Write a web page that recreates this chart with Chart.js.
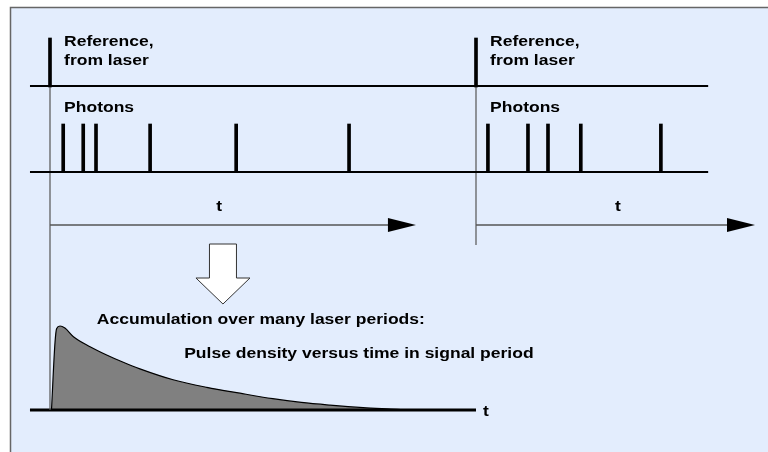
<!DOCTYPE html>
<html>
<head>
<meta charset="utf-8">
<script src="https://cdn.jsdelivr.net/npm/chart.js@4.4.1/dist/chart.umd.min.js"></script>
<style>
  html, body { margin: 0; padding: 0; background: #fff; }
  #wrap { width: 768px; height: 452px; position: relative; }
</style>
</head>
<body>
<div id="wrap"><canvas id="diagram"></canvas></div>
<script>
// Time is measured in units of the laser period (one period = 100)
const laserPulses = [0, 100];
const photonTimes = [3.1, 7.8, 10.8, 23.5, 43.7, 70.2, 102.8, 112.2, 116.9, 124.6, 143.4];

// Accumulated histogram: pulse density (normalised) vs. time in signal period
const decayTimes   = [0.35, 1.17, 1.57, 2.35, 3.5, 5.5, 9.4, 13.3, 17.2, 21.1, 28.9, 36.8, 44.6, 52.3, 59.0, 65.7, 73.5, 81.5, 84.0];
const decayDensity = [0, 0.80, 0.97, 1.0, 0.975, 0.873, 0.754, 0.655, 0.568, 0.49, 0.36, 0.27, 0.20, 0.135, 0.09, 0.058, 0.028, 0.008, 0];

const labelsRef = ['Reference,', 'from laser'];
const labelPhotons = 'Photons';
const labelTime = 't';
const labelAccum = 'Accumulation over many laser periods:';
const labelDensity = 'Pulse density versus time in signal period';

// Layout (rows on the pixel-like y scale, time span of lines)
const REF_TOP = 38, REF_BASE = 86, PH_TOP = 124, PH_BASE = 172, AXIS_Y = 225;
const LINE_START = -4.7, LINE_END = 154.5;
const PX_PER_T = 4.26, ORIGIN_PX = 50;

const ink = '#000';
const grey = '#555';
const FONT = 'bold 15.5px "Liberation Sans", Arial, sans-serif';

const drawText = (ctx, str, x, y, align) => {
    ctx.save();
    ctx.font = FONT;
    ctx.fillStyle = ink;
    ctx.textBaseline = 'alphabetic';
    ctx.translate(x, y);
    ctx.scale(1.13, 1);
    ctx.textAlign = align || 'left';
    ctx.fillText(str, 0, 0);
    ctx.restore();
};

const arrowHead = (ctx, tipX, y) => {
    ctx.beginPath();
    ctx.moveTo(tipX, y);
    ctx.lineTo(tipX - 28, y - 7);
    ctx.lineTo(tipX - 28, y + 7);
    ctx.closePath();
    ctx.fillStyle = ink;
    ctx.fill();
};

const diagramPlugin = {
    id: 'diagram',
    beforeDraw(chart) {
        const ctx = chart.ctx;
        ctx.save();
        ctx.fillStyle = '#fff';
        ctx.fillRect(0, 0, chart.width, chart.height);
        ctx.fillStyle = '#e3edfd';
        ctx.fillRect(10, 7, chart.width - 10, chart.height - 7);
        ctx.strokeStyle = '#666';
        ctx.lineWidth = 1.5;
        ctx.beginPath();
        ctx.moveTo(10.5, chart.height);
        ctx.lineTo(10.5, 7.5);
        ctx.lineTo(chart.width, 7.5);
        ctx.stroke();
        ctx.restore();
    },
    afterDatasetsDraw(chart) {
        const ctx = chart.ctx;
        const x = chart.scales.x, y = chart.scales.y, y2 = chart.scales.y2;
        ctx.save();

        // time axis arrowheads
        arrowHead(ctx, x.getPixelForValue(85.9), y.getPixelForValue(AXIS_Y));
        arrowHead(ctx, x.getPixelForValue(165.5), y.getPixelForValue(AXIS_Y));

        // hollow "accumulate" arrow
        const cx = x.getPixelForValue(40.6);
        const top = y.getPixelForValue(244), sh = y.getPixelForValue(278), tip = y.getPixelForValue(304);
        ctx.beginPath();
        ctx.moveTo(cx - 13.5, top);
        ctx.lineTo(cx + 13.5, top);
        ctx.lineTo(cx + 13.5, sh);
        ctx.lineTo(cx + 27, sh);
        ctx.lineTo(cx, tip);
        ctx.lineTo(cx - 27, sh);
        ctx.lineTo(cx - 13.5, sh);
        ctx.closePath();
        ctx.fillStyle = '#fff';
        ctx.fill();
        ctx.strokeStyle = '#333';
        ctx.lineWidth = 1;
        ctx.stroke();

        // labels
        laserPulses.forEach(t => {
            const lx = x.getPixelForValue(t + 3.3);
            drawText(ctx, labelsRef[0], lx, y.getPixelForValue(46));
            drawText(ctx, labelsRef[1], lx, y.getPixelForValue(65));
            drawText(ctx, labelPhotons, lx, y.getPixelForValue(111.5));
        });
        drawText(ctx, labelTime, x.getPixelForValue(39.7), y.getPixelForValue(211), 'center');
        drawText(ctx, labelTime, x.getPixelForValue(133.3), y.getPixelForValue(211), 'center');
        drawText(ctx, labelAccum, x.getPixelForValue(11.0), y.getPixelForValue(324));
        drawText(ctx, labelDensity, x.getPixelForValue(31.5), y.getPixelForValue(358));
        drawText(ctx, labelTime, x.getPixelForValue(102.3), y2.getPixelForValue(0) + 6, 'center');
        ctx.restore();
    }
};

const seg = (pts) => pts.map(p => ({ x: p[0], y: p[1] }));

new Chart(document.getElementById('diagram'), {
    type: 'scatter',
    data: {
        datasets: [
            {
                type: 'bar',
                label: 'Reference pulses',
                data: laserPulses.map(t => ({ x: t, y: [REF_BASE + 1, REF_TOP] })),
                backgroundColor: ink,
                barThickness: 3,
                grouped: false
            },
            {
                type: 'bar',
                label: 'Photons',
                data: photonTimes.map(t => ({ x: t, y: [PH_BASE, PH_TOP] })),
                backgroundColor: ink,
                barThickness: 3,
                grouped: false
            },
            {
                type: 'line',
                label: 'Reference baseline',
                data: seg([[LINE_START, REF_BASE], [LINE_END, REF_BASE]]),
                borderColor: ink,
                borderWidth: 2,
                pointRadius: 0
            },
            {
                type: 'line',
                label: 'Photon baseline',
                data: seg([[LINE_START, PH_BASE], [LINE_END, PH_BASE]]),
                borderColor: ink,
                borderWidth: 2,
                pointRadius: 0
            },
            {
                type: 'line',
                label: 'Period markers',
                data: seg([[0, REF_BASE], [0, 410], [50, null], [100, REF_BASE], [100, 245]]),
                borderColor: grey,
                borderWidth: 1.2,
                pointRadius: 0,
                spanGaps: false
            },
            {
                type: 'line',
                label: 'Time axes',
                data: seg([[0, AXIS_Y], [80, AXIS_Y], [90, null], [100, AXIS_Y], [160, AXIS_Y]]),
                borderColor: grey,
                borderWidth: 1.6,
                pointRadius: 0,
                spanGaps: false
            },
            {
                type: 'line',
                label: 'Histogram baseline',
                yAxisID: 'y2',
                data: seg([[LINE_START, 0], [100, 0]]),
                borderColor: ink,
                borderWidth: 3,
                pointRadius: 0
            },
            {
                type: 'line',
                label: 'Pulse density',
                yAxisID: 'y2',
                data: decayTimes.map((t, i) => ({ x: t, y: decayDensity[i] })),
                borderColor: ink,
                borderWidth: 1.2,
                backgroundColor: '#808080',
                fill: 'origin',
                pointRadius: 0,
                cubicInterpolationMode: 'monotone'
            }
        ]
    },
    options: {
        responsive: true,
        maintainAspectRatio: false,
        animation: false,
        events: [],
        layout: { padding: 0 },
        plugins: { legend: { display: false }, tooltip: { enabled: false } },
        scales: {
            x: {
                type: 'linear',
                display: false,
                offset: false,
                min: -ORIGIN_PX / PX_PER_T,
                max: (768 - ORIGIN_PX) / PX_PER_T
            },
            y: {
                type: 'linear',
                display: false,
                reverse: true,
                beginAtZero: false,
                min: 0,
                max: 452
            },
            y2: {
                type: 'linear',
                display: false,
                min: -0.5,
                max: 410 / 84
            }
        }
    },
    plugins: [diagramPlugin]
});
</script>
</body>
</html>
